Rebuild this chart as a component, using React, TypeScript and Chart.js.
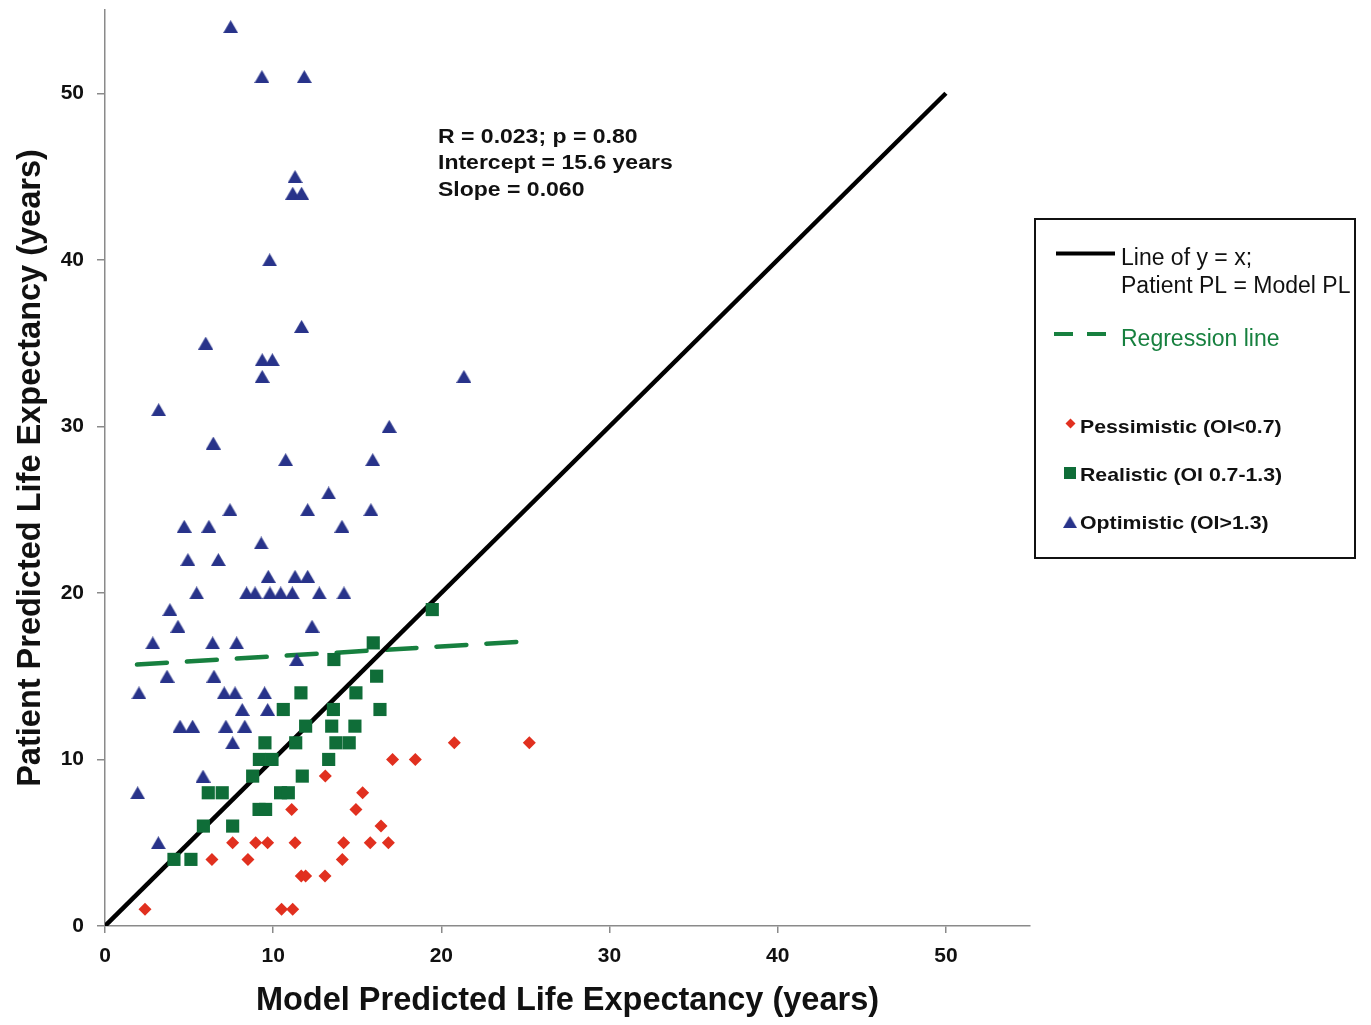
import React, { useEffect, useRef } from 'react';
import { Chart, registerables } from 'chart.js';

Chart.register(...registerables);

// ---------- data ----------
const pessimisticX = [20.77, 25.23, 17.1, 18.45, 13.1, 15.32, 11.1, 14.92, 16.41, 7.59, 8.96, 9.67, 11.3, 14.19, 15.77, 16.85, 6.36, 8.5, 14.11, 11.67, 11.93, 13.08, 2.38, 10.5, 11.16];
const pessimisticY = [11, 11, 10, 10, 9, 8, 7, 7, 6, 5, 5, 5, 5, 5, 5, 5, 4, 4, 4, 3, 3, 3, 1, 1, 1];

const realisticX = [19.46, 15.95, 13.61, 16.15, 11.65, 14.92, 10.6, 13.58, 16.35, 11.93, 13.48, 14.86, 9.51, 11.34, 13.73, 14.52, 9.18, 9.93, 13.3, 8.78, 11.73, 6.14, 6.97, 10.44, 10.9, 9.16, 9.55, 5.85, 7.59, 4.1, 5.11];
const realisticY = [19, 17, 16, 15, 14, 14, 13, 13, 13, 12, 12, 12, 11, 11, 11, 11, 10, 10, 10, 9, 9, 8, 8, 8, 8, 7, 7, 6, 6, 4, 4];

const optimisticX = [7.47, 9.33, 11.85, 11.3, 11.16, 11.69, 9.79, 11.69, 5.99, 9.35, 9.95, 9.35, 21.34, 3.19, 16.9, 6.44, 10.74, 15.92, 13.3, 7.43, 12.05, 15.81, 4.71, 6.18, 14.09, 9.29, 4.93, 6.74, 9.71, 11.3, 12.05, 5.45, 8.42, 8.92, 9.81, 10.45, 11.14, 12.74, 14.21, 3.86, 4.34, 12.31, 2.84, 6.4, 7.83, 11.4, 3.69, 6.48, 2.02, 7.09, 7.73, 9.49, 8.16, 9.67, 4.46, 5.21, 7.19, 8.31, 7.59, 5.83, 1.94, 3.17];
const optimisticY = [54, 51, 51, 45, 44, 44, 40, 36, 35, 34, 34, 33, 33, 31, 30, 29, 28, 28, 26, 25, 25, 25, 24, 24, 24, 23, 22, 22, 21, 21, 21, 20, 20, 20, 20, 20, 20, 20, 20, 19, 18, 18, 17, 17, 17, 16, 15, 15, 14, 14, 14, 14, 13, 13, 12, 12, 12, 12, 11, 9, 8, 5];

const identityX = [0, 50];
const identityY = [0, 50];

const regressionX = [1.9, 25.2];
const regressionY = [15.7, 17.1];

const xTicks = [0, 10, 20, 30, 40, 50];
const yTicks = [0, 10, 20, 30, 40, 50];

const statsLines = ['R = 0.023; p = 0.80', 'Intercept = 15.6 years', 'Slope = 0.060'];
const legendLine1 = ['Line of y = x;', 'Patient PL = Model PL'];
const legendRegression = 'Regression line';
const legendGroups = ['Pessimistic (OI<0.7)', 'Realistic (OI 0.7-1.3)', 'Optimistic (OI>1.3)'];

const xTitle = 'Model Predicted Life Expectancy (years)';
const yTitle = 'Patient Predicted Life Expectancy (years)';

// ---------- styles ----------
const FONT = "'Liberation Sans', Arial, Helvetica, sans-serif";
const RED = '#e1301f';
const GREEN = '#0f6d38';
const GREEN_LINE = '#17803f';
const BLUE = '#28338a';
const AXIS = '#8a8a8a';

const zip = (xs: number[], ys: number[]) => xs.map((x, i) => ({ x, y: ys[i] }));

function makeTriangle(w: number, h: number, color: string) {
  const c = document.createElement('canvas');
  c.width = w;
  c.height = h;
  const g = c.getContext('2d')!;
  g.fillStyle = color;
  g.beginPath();
  g.moveTo(w / 2, 0);
  g.lineTo(w, h);
  g.lineTo(0, h);
  g.closePath();
  g.fill();
  return c;
}

const noPad = (s: any) => {
  s.paddingTop = 0;
  s.paddingBottom = 0;
  s.paddingLeft = 0;
  s.paddingRight = 0;
};

export default function App() {
  const ref = useRef<HTMLCanvasElement | null>(null);

  useEffect(() => {
    if (!ref.current) return;
    const tri = makeTriangle(15, 13, BLUE);

    const overlay = {
      id: 'overlay',
      afterDraw(chart: any) {
        const ctx = chart.ctx as CanvasRenderingContext2D;
        ctx.save();
        // stats annotation
        ctx.fillStyle = '#111';
        ctx.textAlign = 'left';
        ctx.textBaseline = 'alphabetic';
        ctx.font = `bold 19.5px ${FONT}`;
        const baselines = [142.5, 169, 195.5];
        statsLines.forEach((t, i) => {
          ctx.save();
          ctx.translate(438, baselines[i]);
          ctx.scale(1.18, 1);
          ctx.fillText(t, 0, 0);
          ctx.restore();
        });

        // legend box
        ctx.strokeStyle = '#111';
        ctx.lineWidth = 2;
        ctx.strokeRect(1035, 219, 320, 339);

        // identity line sample
        ctx.strokeStyle = '#000';
        ctx.lineWidth = 4;
        ctx.beginPath();
        ctx.moveTo(1056, 253.5);
        ctx.lineTo(1115, 253.5);
        ctx.stroke();
        ctx.fillStyle = '#111';
        ctx.font = `23px ${FONT}`;
        ctx.fillText(legendLine1[0], 1121, 265);
        ctx.fillText(legendLine1[1], 1121, 293);

        // regression sample
        ctx.strokeStyle = GREEN_LINE;
        ctx.lineWidth = 4;
        ctx.beginPath();
        ctx.moveTo(1054, 334);
        ctx.lineTo(1073, 334);
        ctx.moveTo(1087, 334);
        ctx.lineTo(1106, 334);
        ctx.stroke();
        ctx.fillStyle = GREEN_LINE;
        ctx.fillText(legendRegression, 1121, 346);

        // marker legend
        const rows = [432.5, 480.5, 528.5];
        ctx.fillStyle = RED;
        ctx.beginPath();
        ctx.moveTo(1070.5, 418.5);
        ctx.lineTo(1075.5, 423.5);
        ctx.lineTo(1070.5, 428.5);
        ctx.lineTo(1065.5, 423.5);
        ctx.closePath();
        ctx.fill();
        ctx.fillStyle = GREEN;
        ctx.fillRect(1064, 467, 12, 12);
        ctx.drawImage(tri, 1063, 516, 14, 12);

        ctx.fillStyle = '#111';
        ctx.font = `bold 18.5px ${FONT}`;
        legendGroups.forEach((t, i) => {
          ctx.save();
          ctx.translate(1080, rows[i]);
          ctx.scale(1.15, 1);
          ctx.fillText(t, 0, 0);
          ctx.restore();
        });
        ctx.restore();
      },
    };

    const tickFont = { family: FONT, size: 21, weight: 'bold' as const };
    const titleFont = { family: FONT, size: 32.5, weight: 'bold' as const };

    const chart = new Chart(ref.current, {
      type: 'scatter',
      data: {
        datasets: [
          {
            label: legendGroups[0],
            data: zip(pessimisticX, pessimisticY),
            pointStyle: 'rectRot',
            pointRadius: 6.5,
            backgroundColor: RED,
            borderColor: RED,
            borderWidth: 0,
            order: 0,
          },
          {
            label: legendGroups[1],
            data: zip(realisticX, realisticY),
            pointStyle: 'rect',
            pointRadius: 9.3,
            backgroundColor: GREEN,
            borderColor: GREEN,
            borderWidth: 0,
            order: 1,
          },
          {
            label: legendGroups[2],
            data: zip(optimisticX, optimisticY),
            pointStyle: tri as any,
            pointRadius: 8,
            backgroundColor: BLUE,
            borderColor: BLUE,
            borderWidth: 0,
            order: 2,
          },
          {
            label: 'Line of y = x',
            data: zip(identityX, identityY),
            showLine: true,
            borderColor: '#000',
            borderWidth: 4.5,
            pointRadius: 0,
            order: 3,
          },
          {
            label: legendRegression,
            data: zip(regressionX, regressionY),
            showLine: true,
            borderColor: GREEN_LINE,
            borderWidth: 4.5,
            borderDash: [30, 20],
            borderCapStyle: 'round',
            pointRadius: 0,
            order: 4,
          },
        ],
      },
      options: {
        responsive: false,
        animation: false,
        events: [],
        layout: { padding: { top: 10, right: 341, bottom: 0, left: 0 } },
        plugins: {
          legend: { display: false },
          tooltip: { enabled: false },
        },
        elements: { point: { hoverRadius: 0 } },
        scales: {
          x: {
            type: 'linear',
            min: 0,
            max: 55,
            afterBuildTicks: (s: any) => {
              s.ticks = xTicks.map((v) => ({ value: v }));
            },
            afterFit: (s: any) => {
              s.height = 99;
              noPad(s);
            },
            grid: { display: true, drawOnChartArea: false, drawTicks: true, tickLength: 7, color: AXIS, lineWidth: 1.5 },
            border: { display: true, color: AXIS, width: 1.5 },
            ticks: { font: tickFont, color: '#111', padding: 11, maxRotation: 0 },
            title: { display: true, text: xTitle, font: titleFont, color: '#111', padding: { top: 0, bottom: 4 } },
          },
          y: {
            type: 'linear',
            min: 0,
            max: 55,
            afterBuildTicks: (s: any) => {
              s.ticks = yTicks.map((v) => ({ value: v }));
            },
            afterFit: (s: any) => {
              s.width = 105;
              noPad(s);
            },
            grid: { display: true, drawOnChartArea: false, drawTicks: true, tickLength: 8, color: AXIS, lineWidth: 1.5 },
            border: { display: true, color: AXIS, width: 1.5 },
            ticks: { font: tickFont, color: '#111', padding: 13 },
            title: { display: true, text: yTitle, font: titleFont, color: '#111', padding: { top: 12, bottom: 0 } },
          },
        },
      },
      plugins: [overlay],
    });

    return () => chart.destroy();
  }, []);

  return (
    <div style={{ position: 'fixed', left: 0, top: 0, width: 1371, height: 1025, background: '#fff' }}>
      <canvas ref={ref} width={1371} height={1025} style={{ display: 'block' }} />
    </div>
  );
}
